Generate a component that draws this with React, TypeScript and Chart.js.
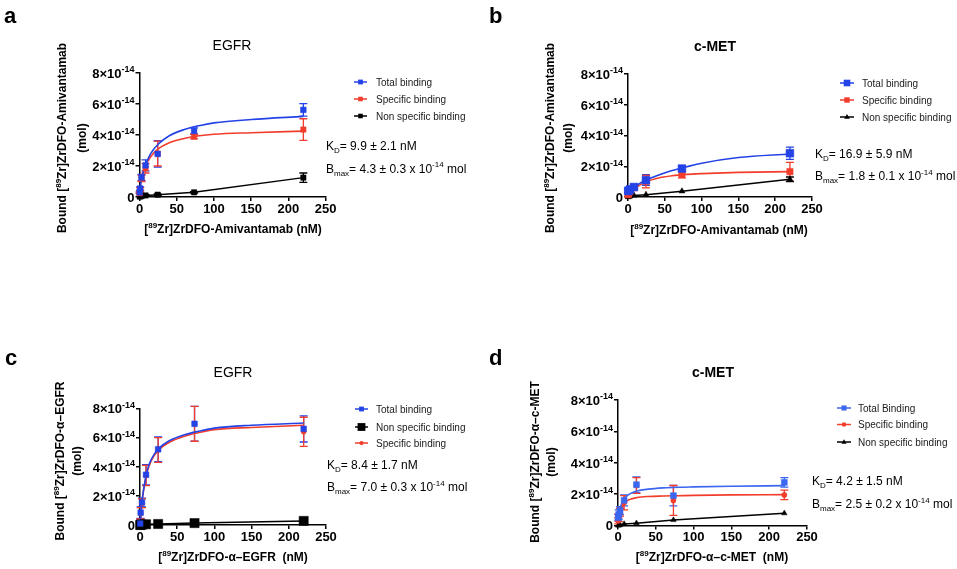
import React, { useEffect, useRef } from 'react';
import { Chart, registerables } from 'chart.js';
Chart.register(...registerables);

const FONT = '"Liberation Sans", Arial, Helvetica, sans-serif';

// ---------- data ----------
const conc = [0.3, 0.9, 2.7, 8.1, 24.4, 73.3, 220];
const fitConc = [0, 2, 5, 10, 15, 25, 40, 60, 80, 100, 150, 220];
const xTicks = [0, 50, 100, 150, 200, 250];
const yTicks = [0, 2, 4, 6, 8]; // x10^-14 mol

// panel a : EGFR, amivantamab
const aTotal = [0.3, 0.55, 1.26, 2.04, 2.78, 4.26, 5.62];
const aTotalErr = [0.05, 0.1, 0.2, 0.35, 0.85, 0.2, 0.4];
const aSpec = [0.25, 0.5, 1.2, 1.85, 2.8, 3.9, 4.35];
const aSpecErr = [0.05, 0.1, 0.2, 0.3, 0.8, 0.15, 0.7];
const aNon = [0.03, 0.05, 0.06, 0.1, 0.15, 0.3, 1.25];
const aNonErr = [0, 0, 0, 0.05, 0.05, 0.05, 0.3];
const aTotalFit = [0, 1.0, 1.6, 2.3, 2.8, 3.4, 3.95, 4.35, 4.6, 4.78, 5.0, 5.2];
const aSpecFit = [0, 1.0, 1.6, 2.2, 2.6, 3.1, 3.5, 3.78, 3.95, 4.05, 4.15, 4.25];

// panel b : c-MET, amivantamab
const bTotal = [0.4, 0.4, 0.5, 0.65, 1.1, 1.85, 2.85];
const bTotalErr = [0.1, 0.1, 0.1, 0.1, 0.35, 0.15, 0.4];
const bSpec = [0.15, 0.25, 0.35, 0.6, 1.0, 1.45, 1.65];
const bSpecErr = [0.1, 0.1, 0.1, 0.1, 0.4, 0.2, 0.6];
const bNon = [0, 0.02, 0.05, 0.1, 0.15, 0.38, 1.15];
const bNonErr = [0, 0, 0, 0, 0, 0, 0.15];
const bTotalFit = [0.3, 0.4, 0.5, 0.65, 0.85, 1.12, 1.4, 1.72, 1.97, 2.2, 2.57, 2.8];
const bSpecFit = [0.1, 0.25, 0.4, 0.6, 0.75, 1.0, 1.22, 1.38, 1.47, 1.52, 1.6, 1.65];

// panel c : EGFR, anti-EGFR
const cTotal = [0.1, 0.85, 1.55, 3.45, 5.2, 6.95, 6.6];
const cTotalErr = [0.3, 0.4, 0.3, 0.7, 0.85, 1.2, 0.9];
const cSpec = [0.1, 0.8, 1.5, 3.4, 5.15, 6.95, 6.4];
const cSpecErr = [0.3, 0.4, 0.3, 0.7, 0.85, 1.2, 1.0];
const cNon = [0.0, 0.02, 0.03, 0.05, 0.07, 0.13, 0.28];
const cNonErr = [0, 0, 0, 0, 0, 0, 0];
const cTotalFit = [0, 1.3, 2.5, 3.8, 4.5, 5.25, 5.8, 6.2, 6.45, 6.65, 6.85, 7.0];
const cSpecFit = [0, 1.25, 2.45, 3.7, 4.4, 5.15, 5.7, 6.1, 6.35, 6.55, 6.7, 6.85];

// panel d : c-MET, anti-c-MET
const dTotal = [0.5, 0.7, 0.95, 1.6, 2.6, 1.9, 2.75];
const dTotalErr = [0.2, 0.3, 0.25, 0.35, 0.5, 0.65, 0.3];
const dSpec = [0.3, 0.5, 0.85, 1.45, 2.55, 1.6, 1.95];
const dSpecErr = [0.2, 0.25, 0.25, 0.45, 0.5, 0.95, 0.3];
const dNon = [0, 0, 0.03, 0.1, 0.15, 0.35, 0.78];
const dNonErr = [0, 0, 0, 0, 0, 0, 0];
const dTotalFit = [0.1, 0.9, 1.4, 1.8, 2.0, 2.2, 2.32, 2.4, 2.44, 2.46, 2.5, 2.54];
const dSpecFit = [0.05, 0.75, 1.15, 1.5, 1.65, 1.78, 1.85, 1.88, 1.9, 1.92, 1.95, 1.97];

// ---------- styles ----------
const BLUE = '#2443e6';
const BLUE_D = '#3a66f0';
const RED = '#f23d2d';
const BLACK = '#000000';

const panels: any[] = [
  {
    canvas: { x: 0, y: 0, w: 478, h: 280 },
    area: { l: 139.5, t: 73, r: 325.7, b: 197 },
    letter: { t: 'a', x: 4, y: 23 },
    title: { t: 'EGFR', x: 232, y: 50, bold: false },
    xTitle: { t: '[^{89}Zr]ZrDFO-Amivantamab (nM)', x: 233, y: 233, size: 12 },
    yTitle: { l1: 'Bound [^{89}Zr]ZrDFO-Amivantamab', l2: '(mol)', x1: 62, x2: 82, cy: 138 },
    legend: { x0: 354, x1: 367, tx: 376, ys: [82, 99, 116] },
    kd: { x: 326, y1: 150, y2: 172.5, kd: '9.9 ± 2.1', bmax: '4.3 ± 0.3' },
    series: [
      { label: 'Total binding', values: aTotal, errors: aTotalErr, color: BLUE, style: 'rect', r: 4, line: false, fit: aTotalFit },
      { label: 'Specific binding', values: aSpec, errors: aSpecErr, color: RED, style: 'rect', r: 3.8, line: false, fit: aSpecFit },
      { label: 'Non specific binding', values: aNon, errors: aNonErr, color: BLACK, style: 'rect', r: 3.8, line: true },
    ],
  },
  {
    canvas: { x: 478, y: 0, w: 479, h: 280 },
    area: { l: 628, t: 74, r: 812, b: 197 },
    letter: { t: 'b', x: 489, y: 23 },
    title: { t: 'c-MET', x: 715, y: 51, bold: true },
    xTitle: { t: '[^{89}Zr]ZrDFO-Amivantamab (nM)', x: 719, y: 234, size: 12 },
    yTitle: { l1: 'Bound [^{89}Zr]ZrDFO-Amivantamab', l2: '(mol)', x1: 550, x2: 568, cy: 138 },
    legend: { x0: 840, x1: 854, tx: 862, ys: [83, 100, 117] },
    kd: { x: 815, y1: 157.5, y2: 180, kd: '16.9 ± 5.9', bmax: '1.8 ± 0.1' },
    series: [
      { label: 'Total binding', values: bTotal, errors: bTotalErr, color: BLUE, style: 'rect', r: 5.5, line: false, fit: bTotalFit },
      { label: 'Specific binding', values: bSpec, errors: bSpecErr, color: RED, style: 'rect', r: 4.5, line: false, fit: bSpecFit },
      { label: 'Non specific binding', values: bNon, errors: bNonErr, color: BLACK, style: 'triangle', r: 3.5, line: true },
    ],
  },
  {
    canvas: { x: 0, y: 280, w: 478, h: 289 },
    area: { l: 140, t: 408.5, r: 326, b: 525 },
    letter: { t: 'c', x: 5, y: 365 },
    title: { t: 'EGFR', x: 233, y: 377, bold: false },
    xTitle: { t: '[^{89}Zr]ZrDFO-α–EGFR  (nM)', x: 233, y: 561, size: 12 },
    yTitle: { l1: 'Bound [^{89}Zr]ZrDFO-α–EGFR', l2: '(mol)', x1: 60, x2: 77, cy: 461 },
    legend: { x0: 355, x1: 368, tx: 376, ys: [409, 427, 443] },
    kd: { x: 327, y1: 468.5, y2: 491, kd: '8.4 ± 1.7', bmax: '7.0 ± 0.3' },
    series: [
      { label: 'Total binding', values: cTotal, errors: cTotalErr, color: BLUE, style: 'rect', r: 4, line: false, fit: cTotalFit },
      { label: 'Non specific binding', values: cNon, errors: cNonErr, color: BLACK, style: 'rect', r: 6.5, line: true },
      { label: 'Specific binding', values: cSpec, errors: cSpecErr, color: RED, style: 'circle', r: 2.5, line: false, fit: cSpecFit },
    ],
  },
  {
    canvas: { x: 478, y: 280, w: 479, h: 289 },
    area: { l: 618, t: 400, r: 807, b: 525.5 },
    letter: { t: 'd', x: 489, y: 365 },
    title: { t: 'c-MET', x: 713, y: 377, bold: true },
    xTitle: { t: '[^{89}Zr]ZrDFO-α–c-MET  (nM)', x: 712, y: 561, size: 12 },
    yTitle: { l1: 'Bound [^{89}Zr]ZrDFO-α–c-MET', l2: '(mol)', x1: 535, x2: 551, cy: 462 },
    legend: { x0: 837, x1: 851, tx: 858, ys: [408, 424.5, 442] },
    kd: { x: 812, y1: 485, y2: 508, kd: '4.2 ± 1.5', bmax: '2.5 ± 0.2' },
    series: [
      { label: 'Total Binding', values: dTotal, errors: dTotalErr, color: BLUE_D, style: 'rect', r: 4.2, line: false, fit: dTotalFit },
      { label: 'Specific binding', values: dSpec, errors: dSpecErr, color: RED, style: 'circle', r: 2.6, line: false, fit: dSpecFit },
      { label: 'Non specific binding', values: dNon, errors: dNonErr, color: BLACK, style: 'triangle', r: 3.2, line: true },
    ],
  },
];

// ---------- rich text helpers ----------
type Seg = { t: string; s?: 'sup' | 'sub' };
function parseRich(str: string): Seg[] {
  const out: Seg[] = [];
  const re = /(\^\{[^}]*\}|_\{[^}]*\})/g;
  let last = 0;
  let m: RegExpExecArray | null;
  while ((m = re.exec(str))) {
    if (m.index > last) out.push({ t: str.slice(last, m.index) });
    const tok = m[0];
    out.push({ t: tok.slice(2, -1), s: tok[0] === '^' ? 'sup' : 'sub' });
    last = m.index + tok.length;
  }
  if (last < str.length) out.push({ t: str.slice(last) });
  return out;
}
function segFont(size: number, weight: string, s?: string) {
  const sz = s ? Math.round(size * 0.68) : size;
  return `${weight} ${sz}px ${FONT}`;
}
function richWidth(ctx: CanvasRenderingContext2D, segs: Seg[], size: number, weight: string) {
  let w = 0;
  for (const g of segs) {
    ctx.font = segFont(size, weight, g.s);
    w += ctx.measureText(g.t).width;
  }
  return w;
}
function drawRich(ctx: CanvasRenderingContext2D, segs: Seg[], x: number, y: number, size: number, weight: string, align: string, color = '#000') {
  const w = richWidth(ctx, segs, size, weight);
  let cx = align === 'center' ? x - w / 2 : align === 'right' ? x - w : x;
  ctx.save();
  ctx.fillStyle = color;
  ctx.textAlign = 'left';
  ctx.textBaseline = 'alphabetic';
  for (const g of segs) {
    ctx.font = segFont(size, weight, g.s);
    const dy = g.s === 'sup' ? -size * 0.42 : g.s === 'sub' ? size * 0.28 : 0;
    ctx.fillText(g.t, cx, y + dy);
    cx += ctx.measureText(g.t).width;
  }
  ctx.restore();
}
function drawMarker(ctx: CanvasRenderingContext2D, style: string, x: number, y: number, r: number, color: string) {
  ctx.save();
  ctx.fillStyle = color;
  ctx.beginPath();
  if (style === 'rect') {
    const s = r * Math.SQRT1_2;
    ctx.rect(x - s, y - s, 2 * s, 2 * s);
  } else if (style === 'circle') {
    ctx.arc(x, y, r, 0, Math.PI * 2);
  } else if (style === 'triangle') {
    ctx.moveTo(x, y - r);
    ctx.lineTo(x + r * 0.95, y + r * 0.6);
    ctx.lineTo(x - r * 0.95, y + r * 0.6);
    ctx.closePath();
  }
  ctx.fill();
  ctx.restore();
}

function makePlugin(p: any) {
  const ox = p.canvas.x;
  const oy = p.canvas.y;
  return {
    id: 'deco',
    beforeDatasetsDraw(chart: any) {
      const ctx: CanvasRenderingContext2D = chart.ctx;
      const ys = chart.scales.y;
      chart.data.datasets.forEach((ds: any, i: number) => {
        if (!ds.errorBars) return;
        const meta = chart.getDatasetMeta(i);
        ctx.save();
        ctx.strokeStyle = ds.borderColor;
        ctx.lineWidth = 1.3;
        meta.data.forEach((el: any, j: number) => {
          const e = ds.errorBars[j];
          if (!e) return;
          const v = ds.data[j].y;
          const y1 = ys.getPixelForValue(v - e);
          const y2 = ys.getPixelForValue(v + e);
          const x = el.x;
          ctx.beginPath();
          ctx.moveTo(x, y1);
          ctx.lineTo(x, y2);
          ctx.moveTo(x - 4, y1);
          ctx.lineTo(x + 4, y1);
          ctx.moveTo(x - 4, y2);
          ctx.lineTo(x + 4, y2);
          ctx.stroke();
        });
        ctx.restore();
      });
    },
    afterDraw(chart: any) {
      const ctx: CanvasRenderingContext2D = chart.ctx;
      const xs = chart.scales.x;
      const ys = chart.scales.y;
      const area = chart.chartArea;
      // tick labels
      yTicks.forEach((v) => {
        const py = ys.getPixelForValue(v);
        const segs: Seg[] = v === 0 ? [{ t: '0' }] : [{ t: `${v}×10` }, { t: '-14', s: 'sup' }];
        drawRich(ctx, segs, area.left - 5, py + 4.8, 13, 'bold', 'right');
      });
      xTicks.forEach((v) => {
        const px = xs.getPixelForValue(v);
        drawRich(ctx, [{ t: String(v) }], px, area.bottom + 15.5, 13, 'bold', 'center');
      });
      // panel letter
      drawRich(ctx, [{ t: p.letter.t }], p.letter.x - ox, p.letter.y - oy, 22, 'bold', 'left');
      // title
      drawRich(ctx, [{ t: p.title.t }], p.title.x - ox, p.title.y - oy, 14, p.title.bold ? 'bold' : 'normal', 'center');
      // x title
      drawRich(ctx, parseRich(p.xTitle.t), p.xTitle.x - ox, p.xTitle.y - oy, p.xTitle.size, 'bold', 'center');
      // y title
      ctx.save();
      ctx.translate(p.yTitle.x1 - ox + 4, p.yTitle.cy - oy);
      ctx.rotate(-Math.PI / 2);
      drawRich(ctx, parseRich(p.yTitle.l1), 0, 0, 12, 'bold', 'center');
      ctx.restore();
      ctx.save();
      ctx.translate(p.yTitle.x2 - ox + 4, p.yTitle.cy - oy);
      ctx.rotate(-Math.PI / 2);
      drawRich(ctx, parseRich(p.yTitle.l2), 0, 0, 12, 'bold', 'center');
      ctx.restore();
      // legend
      p.series.forEach((s: any, i: number) => {
        const y = p.legend.ys[i] - oy;
        const x0 = p.legend.x0 - ox;
        const x1 = p.legend.x1 - ox;
        ctx.save();
        ctx.strokeStyle = s.color;
        ctx.lineWidth = 1.5;
        ctx.beginPath();
        ctx.moveTo(x0, y);
        ctx.lineTo(x1, y);
        ctx.stroke();
        ctx.restore();
        drawMarker(ctx, s.style, (x0 + x1) / 2, y, s.r * 0.85, s.color);
        drawRich(ctx, [{ t: s.label }], p.legend.tx - ox, y + 3.5, 10, 'normal', 'left', '#1a1a1a');
      });
      // KD / Bmax
      drawRich(ctx, parseRich(`K_{D}= ${p.kd.kd} nM`), p.kd.x - ox, p.kd.y1 - oy, 12, 'normal', 'left');
      drawRich(ctx, parseRich(`B_{max}= ${p.kd.bmax} x 10^{-14} mol`), p.kd.x - ox, p.kd.y2 - oy, 12, 'normal', 'left');
    },
  };
}

function buildDatasets(p: any) {
  const pts: any[] = [];
  const fits: any[] = [];
  p.series.forEach((s: any) => {
    pts.push({
      label: s.label,
      data: conc.map((x, i) => ({ x, y: s.values[i] })),
      showLine: s.line,
      borderColor: s.color,
      backgroundColor: s.color,
      borderWidth: 1.5,
      pointStyle: s.style,
      pointRadius: s.r,
      pointBorderWidth: 0.5,
      pointBackgroundColor: s.color,
      pointBorderColor: s.color,
      errorBars: s.errors,
      clip: false,
    });
    if (s.fit) {
      fits.push({
        label: s.label + ' fit',
        data: fitConc.map((x, i) => ({ x, y: s.fit[i] })),
        showLine: true,
        borderColor: s.color,
        borderWidth: 1.6,
        pointRadius: 0,
        cubicInterpolationMode: 'monotone',
        clip: false,
      });
    }
  });
  return [...pts, ...fits];
}

function axisCommon() {
  return {
    type: 'linear',
    ticks: { display: false },
    grid: { display: true, drawOnChartArea: false, drawTicks: true, tickLength: 4, color: '#000', lineWidth: 1.5 },
    border: { display: true, color: '#000', width: 1.5 },
  };
}

function Panel({ p }: { p: any }) {
  const ref = useRef<HTMLCanvasElement>(null);
  useEffect(() => {
    if (!ref.current) return;
    const W = 30;
    const H = 30;
    const padL = p.area.l - p.canvas.x - W;
    const padT = p.area.t - p.canvas.y;
    const padR = p.canvas.x + p.canvas.w - p.area.r;
    const padB = p.canvas.y + p.canvas.h - p.area.b - H;
    const chart = new Chart(ref.current, {
      type: 'scatter',
      data: { datasets: buildDatasets(p) },
      options: {
        animation: false,
        responsive: false,
        events: [],
        layout: { padding: { left: padL, top: padT, right: padR, bottom: padB } },
        plugins: { legend: { display: false }, tooltip: { enabled: false }, title: { display: false } },
        scales: {
          x: { ...axisCommon(), min: 0, max: 250, ticks: { display: false, stepSize: 50 }, afterFit: (s: any) => { s.height = H; } },
          y: { ...axisCommon(), min: 0, max: 8, ticks: { display: false, stepSize: 2 }, afterFit: (s: any) => { s.width = W; } },
        },
      } as any,
      plugins: [makePlugin(p)],
    } as any);
    return () => chart.destroy();
  }, []);
  return (
    <canvas
      ref={ref}
      width={p.canvas.w}
      height={p.canvas.h}
      style={{ position: 'absolute', left: p.canvas.x, top: p.canvas.y, width: p.canvas.w, height: p.canvas.h }}
    />
  );
}

export default function App() {
  return (
    <div style={{ position: 'absolute', left: 0, top: 0, width: 957, height: 569, background: '#fff', overflow: 'hidden' }}>
      {panels.map((p, i) => (
        <Panel key={i} p={p} />
      ))}
    </div>
  );
}
